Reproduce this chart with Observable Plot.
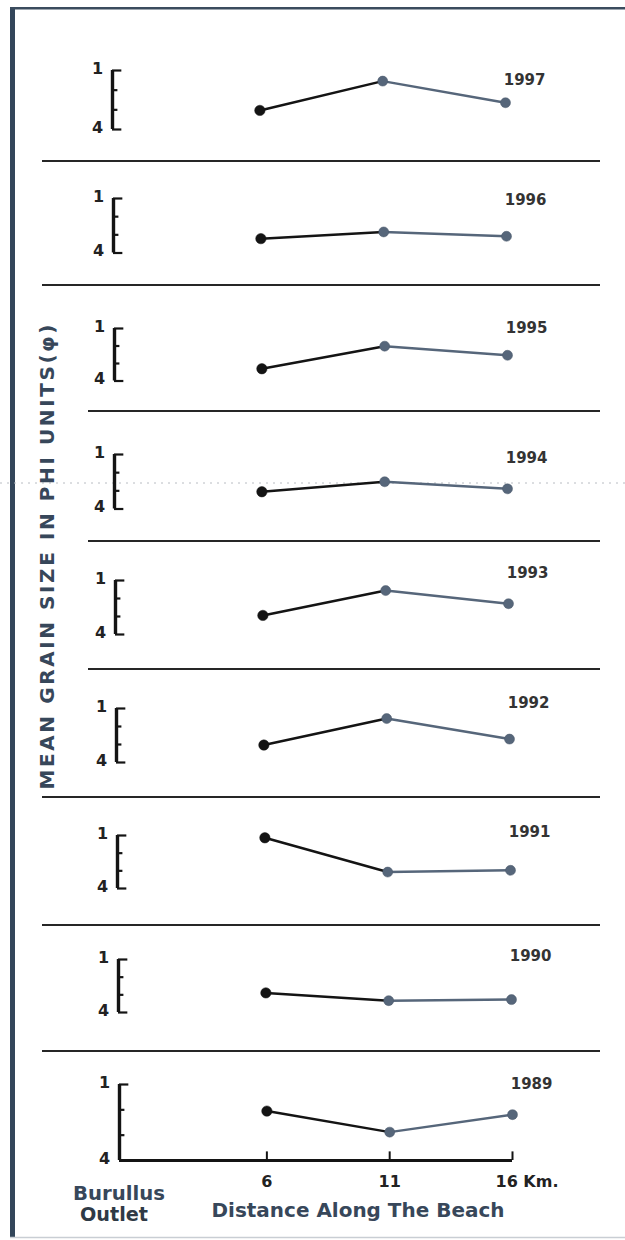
<!DOCTYPE html>
<html><head><meta charset="utf-8">
<script src="https://cdn.jsdelivr.net/npm/d3@7"></script>
<script src="https://cdn.jsdelivr.net/npm/@observablehq/plot@0.6"></script>
<style>
body{margin:0;background:#fff;}
#page{position:relative;width:625px;height:1240px;overflow:hidden;background:#fff;}
</style></head><body><div id="page"></div>
<script>
// ---------- data ----------
const years = [1997, 1996, 1995, 1994, 1993, 1992, 1991, 1990, 1989];
const distances = [6, 11, 16]; // km along the beach
const grain1997 = [3.03, 1.54, 2.64];
const grain1996 = [3.21, 2.84, 3.08];
const grain1995 = [3.30, 2.01, 2.53];
const grain1994 = [3.05, 2.50, 2.89];
const grain1993 = [2.94, 1.56, 2.29];
const grain1992 = [3.03, 1.56, 2.70];
const grain1991 = [1.13, 3.07, 2.97];
const grain1990 = [2.89, 3.33, 3.27];
const grain1989 = [2.05, 2.88, 2.19];
const grainByYear = {1997: grain1997, 1996: grain1996, 1995: grain1995, 1994: grain1994, 1993: grain1993, 1992: grain1992, 1991: grain1991, 1990: grain1990, 1989: grain1989};
const yTicks = [1, 2, 3, 4];
const yTickLabels = [1, 4];
const xTicks = [6, 11, 16];
const xTickLabels = ["6", "11", "16 Km."];
const xTitle = "Distance Along The Beach";
const originLabel = ["Burullus", "Outlet"];
const yTitle = "MEAN GRAIN SIZE IN PHI UNITS(\u03C6)";

// ---------- layout (pixels) ----------
const W = 625, H = 1240;
const panelLayout = [
  {axisTop: 69.5, axisBottom: 128.5, dx: 0,   yearY: 73},
  {axisTop: 197.5, axisBottom: 252, dx: 1,   yearY: 193},
  {axisTop: 327.5, axisBottom: 380, dx: 1.5, yearY: 321},
  {axisTop: 453.5, axisBottom: 508, dx: 2,   yearY: 451},
  {axisTop: 580, axisBottom: 634, dx: 3,   yearY: 567},
  {axisTop: 708, axisBottom: 762, dx: 4,   yearY: 697},
  {axisTop: 835, axisBottom: 888, dx: 4.5, yearY: 826},
  {axisTop: 959, axisBottom: 1012, dx: 6, yearY: 950},
  {axisTop: 1084, axisBottom: 1160, dx: 7, yearY: 1078}
];
const separators = [
  {y: 161, x1: 42}, {y: 285, x1: 42}, {y: 411, x1: 88}, {y: 541, x1: 88},
  {y: 669, x1: 88}, {y: 797, x1: 42}, {y: 925, x1: 42}, {y: 1051, x1: 42}
];
const DARK = "#141414", SLATE = "#56667a", TEXT = "#222", BLUETEXT = "#37475a";
const FONT = "'DejaVu Sans', sans-serif";

const page = document.getElementById("page");

// ---------- decorations (frame, separators, titles) ----------
const svg = d3.select(page).append("svg")
  .attr("width", W).attr("height", H)
  .style("position", "absolute").style("left", "0px").style("top", "0px");
svg.append("rect").attr("x", 10).attr("y", 8).attr("width", 5).attr("height", 1229).attr("fill", "#33465a");
svg.append("rect").attr("x", 10).attr("y", 7).attr("width", 615).attr("height", 2.5).attr("fill", "#3b4c5e");
svg.append("line").attr("x1", 10).attr("x2", 625).attr("y1", 1237.5).attr("y2", 1237.5).attr("stroke", "#c9ced4").attr("stroke-width", 1.5);
svg.append("line").attr("x1", 0).attr("x2", 625).attr("y1", 483).attr("y2", 483)
  .attr("stroke", "#b8bcc2").attr("stroke-width", 1).attr("stroke-dasharray", "2,5");
svg.selectAll("line.sep").data(separators).join("line")
  .attr("class", "sep")
  .attr("x1", d => d.x1).attr("x2", 600).attr("y1", d => d.y).attr("y2", d => d.y)
  .attr("stroke", "#262626").attr("stroke-width", 2.2);
svg.append("text")
  .attr("transform", "translate(54,557) rotate(-90)")
  .attr("text-anchor", "middle")
  .attr("textLength", 465).attr("lengthAdjust", "spacing")
  .attr("font-family", FONT).attr("font-weight", "bold").attr("font-size", 20)
  .attr("fill", BLUETEXT).text(yTitle);
svg.append("text").attr("x", 119).attr("y", 1200).attr("text-anchor", "middle")
  .attr("textLength", 92).attr("lengthAdjust", "spacingAndGlyphs")
  .attr("font-family", FONT).attr("font-weight", "bold").attr("font-size", 19)
  .attr("fill", BLUETEXT).text(originLabel[0]);
svg.append("text").attr("x", 114).attr("y", 1221).attr("text-anchor", "middle")
  .attr("textLength", 68).attr("lengthAdjust", "spacingAndGlyphs")
  .attr("font-family", FONT).attr("font-weight", "bold").attr("font-size", 19)
  .attr("fill", "#2f3a46").text(originLabel[1]);
svg.append("text").attr("x", 358).attr("y", 1217).attr("text-anchor", "middle")
  .attr("textLength", 293).attr("lengthAdjust", "spacingAndGlyphs")
  .attr("font-family", FONT).attr("font-weight", "bold").attr("font-size", 20)
  .attr("fill", BLUETEXT).text(xTitle);

// ---------- panels ----------
years.forEach((year, i) => {
  const L = panelLayout[i];
  const last = i === years.length - 1;
  const mt = 16, mb = last ? 34 : 16;
  const rows = distances.map((km, j) => ({km, phi: grainByYear[year][j]}));
  const seg1 = rows.slice(0, 2), seg2 = rows.slice(1);
  const marks = [
    Plot.ruleX([0], {y1: 4, y2: 1, stroke: DARK, strokeWidth: 3.4}),
    Plot.ruleY(yTicks, {y: d => d, x1: 0, x2: d => (d === 1 || d === 4) ? 0.38 : 0.22, stroke: DARK, strokeWidth: 2.2}),
    Plot.text(yTickLabels, {x: 0, y: d => d, text: d => String(d), dx: -15, dy: -2, fontWeight: "bold", fontSize: 16, fill: TEXT, fontFamily: FONT}),
    Plot.line(seg1, {x: "km", y: "phi", stroke: DARK, strokeWidth: 2.5}),
    Plot.line(seg2, {x: "km", y: "phi", stroke: SLATE, strokeWidth: 2.5}),
    Plot.dot(rows.slice(0, 1), {x: "km", y: "phi", r: 5.2, fill: DARK, stroke: DARK, strokeWidth: 0.5}),
    Plot.dot(rows.slice(1), {x: "km", y: "phi", r: 5, fill: SLATE, stroke: "#4a596b", strokeWidth: 0.5}),
    Plot.text([year], {x: 16, frameAnchor: "top", dy: L.yearY - L.axisTop, dx: 40, textAnchor: "end", text: d => String(d),
      fontWeight: "bold", fontSize: 15, fill: "#333", fontFamily: FONT})
  ];
  if (last) {
    marks.push(
      Plot.ruleY([4], {x1: 0, x2: 16, stroke: DARK, strokeWidth: 3}),
      Plot.ruleX(xTicks, {x: d => d, y1: 4, y2: 3.66, stroke: DARK, strokeWidth: 2}),
      Plot.text(xTicks.slice(0, 2), {x: d => d, y: 4, dy: 21, text: (d, k) => xTickLabels[k], textAnchor: "middle",
        fontWeight: "bold", fontSize: 16, fill: TEXT, fontFamily: FONT}),
      Plot.text(xTicks.slice(2), {x: d => d, y: 4, dy: 21, dx: -17, text: () => xTickLabels[2], textAnchor: "start",
        fontWeight: "bold", fontSize: 16, fill: TEXT, fontFamily: FONT})
    );
  }
  const chart = Plot.plot({
    width: W,
    height: (L.axisBottom - L.axisTop) + mt + mb,
    marginLeft: 112, marginRight: W - 505, marginTop: mt, marginBottom: mb,
    x: {domain: [0, 16], axis: null},
    y: {domain: [4, 1], axis: null},
    style: {background: "none", overflow: "visible"},
    marks
  });
  chart.style.position = "absolute";
  chart.style.left = L.dx + "px";
  chart.style.top = (L.axisTop - mt) + "px";
  page.appendChild(chart);
});
</script>
</body></html>
